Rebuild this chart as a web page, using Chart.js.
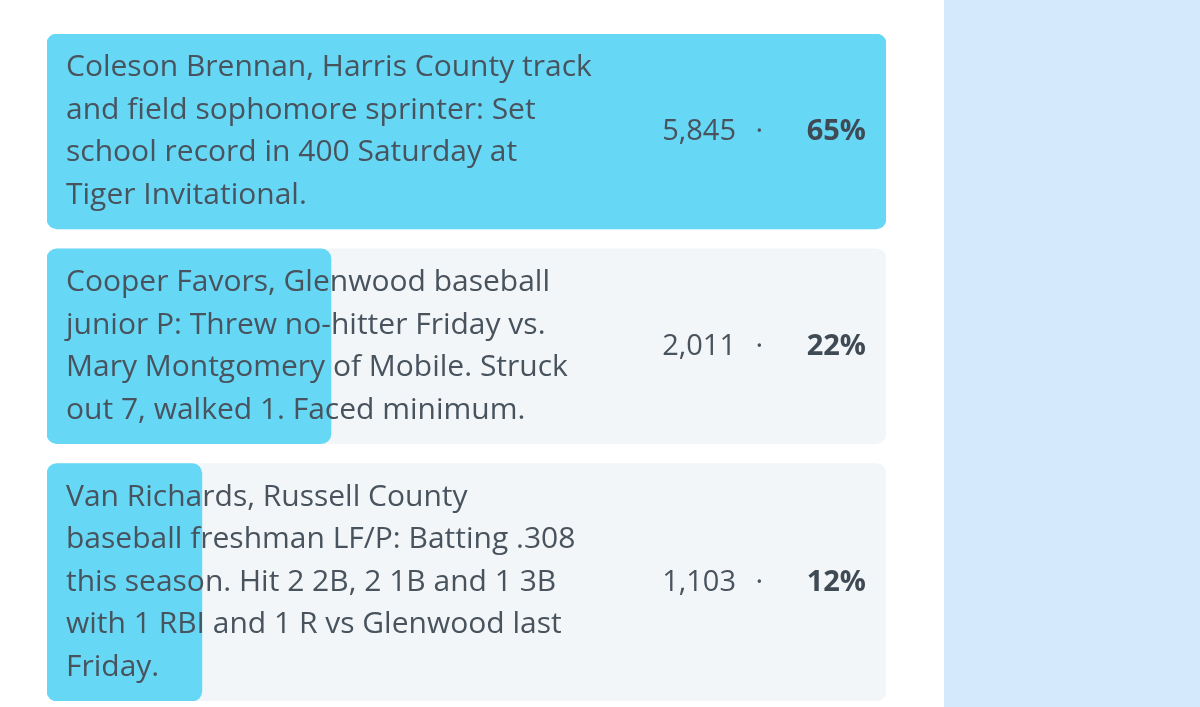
<!DOCTYPE html>
<html>
<head>
<meta charset="utf-8">
<script src="https://cdn.jsdelivr.net/npm/chart.js@4.4.1/dist/chart.umd.min.js"></script>
<style>
  html, body { margin: 0; padding: 0; background: #fff; }
  #wrap { position: absolute; left: 0; top: 0; width: 944px; height: 707px; }
  #side { position: absolute; left: 944px; top: 0; width: 256px; height: 707px; background: #d5e9fd; }
</style>
</head>
<body>
<div id="wrap"><canvas id="poll"></canvas></div>
<div id="side"></div>
<script>
// poll answers, one line per wrapped text line
const answers = [
  ["Coleson Brennan, Harris County track", "and field sophomore sprinter: Set", "school record in 400 Saturday at", "Tiger Invitational."],
  ["Cooper Favors, Glenwood baseball", "junior P: Threw no-hitter Friday vs.", "Mary Montgomery of Mobile. Struck", "out 7, walked 1. Faced minimum."],
  ["Van Richards, Russell County", "baseball freshman LF/P: Batting .308", "this season. Hit 2 2B, 2 1B and 1 3B", "with 1 RBI and 1 R vs Glenwood last", "Friday."]
];
const votes = [5845, 2011, 1103];
const percents = [65, 22, 12];

const ROW_PAD = 0.59;   // row height = lines + pad (in line units)
const ROW_GAP = 0.47;
const FONT = "'Open Sans', sans-serif";
const maxPct = Math.max(...percents);

// stack the rows in line units
let cursor = 0;
const rows = answers.map(lines => {
  const h = lines.length + ROW_PAD;
  const r = { top: cursor, h: h, center: cursor + h / 2 };
  cursor += h + ROW_GAP;
  return r;
});
const totalUnits = cursor - ROW_GAP;

const PAD = { left: 47, right: 58, top: 34, bottom: 6 };
const areaH = 707 - PAD.top - PAD.bottom;
const pxPerUnit = areaH / totalUnits;

const datasets = [];
rows.forEach((r, i) => {
  datasets.push({
    data: [{ x: [0, maxPct], y: r.center }],
    backgroundColor: "#f2f6f8",
    barThickness: r.h * pxPerUnit,
    borderRadius: 10, borderSkipped: false,
    grouped: false, order: 2
  });
  datasets.push({
    data: [{ x: [0, percents[i]], y: r.center }],
    backgroundColor: "#66d8f5",
    barThickness: r.h * pxPerUnit,
    borderRadius: 10, borderSkipped: false,
    grouped: false, order: 1
  });
});

const textPlugin = {
  id: "pollText",
  afterDatasetsDraw(chart) {
    const { ctx, scales, chartArea } = chart;
    ctx.save();
    rows.forEach((r, i) => {
      const top = scales.y.getPixelForValue(r.top);
      ctx.fillStyle = "#48535e";
      ctx.font = "30px " + FONT;
      ctx.textBaseline = "middle";
      ctx.textAlign = "left";
      answers[i].forEach((line, k) => {
        ctx.fillText(line, chartArea.left + 19, top + (ROW_PAD / 2 + 0.5 + k) * pxPerUnit);
      });
      const cy = scales.y.getPixelForValue(r.center);
      const right = chartArea.right - 20;
      ctx.textAlign = "right";
      ctx.font = "bold 29px " + FONT;
      ctx.fillStyle = "#3f4a55";
      ctx.fillText(percents[i] + "%", right, cy);
      ctx.font = "29px " + FONT;
      ctx.fillStyle = "#48535e";
      ctx.fillText("·", right - 103, cy);
      ctx.fillText(votes[i].toLocaleString("en-US"), right - 130, cy);
    });
    ctx.restore();
  }
};

new Chart(document.getElementById("poll"), {
  type: "bar",
  data: { datasets: datasets },
  options: {
    indexAxis: "y",
    responsive: true,
    maintainAspectRatio: false,
    animation: false,
    layout: { padding: PAD },
    scales: {
      x: { type: "linear", min: 0, max: maxPct, display: false },
      y: { type: "linear", min: 0, max: totalUnits, reverse: true, offset: false, display: false }
    },
    plugins: { legend: { display: false }, tooltip: { enabled: false } }
  },
  plugins: [textPlugin]
});
</script>
</body>
</html>
